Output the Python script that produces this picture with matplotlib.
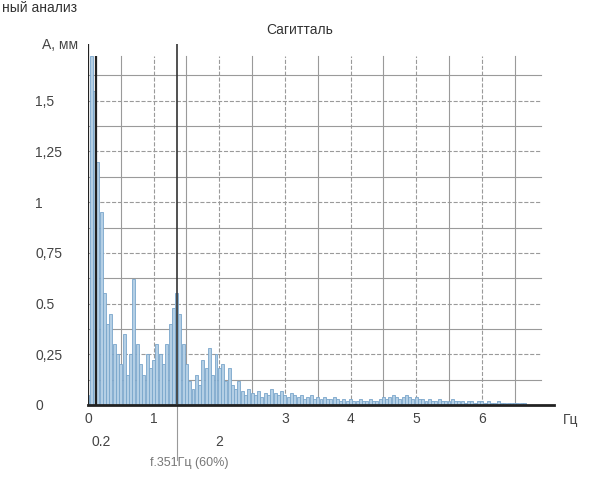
import matplotlib.pyplot as plt
import numpy as np

plt.rcParams['font.family'] = ['Liberation Sans', 'DejaVu Sans']

# spectrum, step 0.05 Hz
freq_step = 0.05
amplitude = [
    0.05, 1.72, 1.55, 1.20, 0.95, 0.55, 0.40, 0.45, 0.30, 0.25,  # 0.00 - 0.45
    0.20, 0.35, 0.15, 0.25, 0.62, 0.30, 0.20, 0.15, 0.25, 0.18,  # 0.50 - 0.95
    0.22, 0.30, 0.25, 0.20, 0.30, 0.40, 0.48, 0.55, 0.45, 0.30,  # 1.00 - 1.45
    0.20, 0.12, 0.08, 0.15, 0.10, 0.22, 0.18, 0.28, 0.15, 0.25,  # 1.50 - 1.95
    0.18, 0.20, 0.12, 0.18, 0.10, 0.08, 0.12, 0.07, 0.05, 0.08,  # 2.00 - 2.45
    0.06, 0.05, 0.07, 0.04, 0.06, 0.05, 0.08, 0.06, 0.05, 0.07,  # 2.50 - 2.95
    0.05, 0.04, 0.06, 0.05, 0.04, 0.05, 0.03, 0.04, 0.05, 0.03,  # 3.00 - 3.45
    0.04, 0.03, 0.04, 0.03, 0.03, 0.04, 0.03, 0.02, 0.03, 0.02,  # 3.50 - 3.95
    0.03, 0.02, 0.02, 0.03, 0.02, 0.02, 0.03, 0.02, 0.02, 0.03,  # 4.00 - 4.45
    0.04, 0.03, 0.04, 0.05, 0.04, 0.03, 0.04, 0.05, 0.04, 0.03,  # 4.50 - 4.95
    0.04, 0.03, 0.03, 0.02, 0.03, 0.02, 0.02, 0.03, 0.02, 0.02,  # 5.00 - 5.45
    0.02, 0.03, 0.02, 0.02, 0.02, 0.01, 0.02, 0.02, 0.01, 0.02,  # 5.50 - 5.95
    0.02, 0.01, 0.02, 0.01, 0.01, 0.02, 0.01, 0.01, 0.01, 0.01,  # 6.00 - 6.45
    0.01, 0.01, 0.01, 0.01,                                      # 6.50 - 6.65
]
freq = np.arange(len(amplitude)) * freq_step

x_ticks = [0, 1, 3, 4, 5, 6]
x_ticks_low = [0.2, 2]
y_ticks = [0, 0.25, 0.5, 0.75, 1, 1.25, 1.5]
y_tick_labels = ['0', '0,25', '0.5', '0,75', '1', '1,25', '1,5']
marker_freq = 1.351

fig = plt.figure(figsize=(5.92, 4.82), dpi=100)
ax = fig.add_axes([88/592, 77/482, 466/592, 361/482])

# grid
for gx in np.arange(0.5, 7.0, 0.5):
    ls = '-' if (gx * 2) % 2 == 1 else '--'
    ax.plot([gx, gx], [0, 1.72], color='#9a9a9a', lw=0.8, ls=ls, zorder=1)
for i, gy in enumerate(np.arange(0.125, 1.72, 0.125)):
    ls = '-' if i % 2 == 0 else '--'
    ax.plot([0, 6.9], [gy, gy], color='#9a9a9a', lw=0.8, ls=ls, zorder=1)

ax.bar(freq, amplitude, width=freq_step * 0.9, color='#b4cfe5',
       edgecolor='#7aa6cb', linewidth=0.6, zorder=2)
ax.vlines([0.0, 0.12], 0, [1.78, 1.72], color='#222222', lw=1.6, zorder=3)

ax.axvline(marker_freq, color='#333333', lw=1.2, zorder=3)
ax.plot([marker_freq, marker_freq], [0, -0.27], color='#999999', lw=0.8,
        clip_on=False)

ax.set_xlim(0, 7.1)
ax.set_ylim(0, 1.78)
for s in ['top', 'right', 'left']:
    ax.spines[s].set_visible(False)
ax.spines['bottom'].set_color('#222222')
ax.spines['bottom'].set_linewidth(2)

ax.set_xticks(x_ticks)
ax.set_xticklabels([str(t) for t in x_ticks], color='#444444', fontsize=10)
ax.get_xticklabels()[0].set_x(0.06)
ax.set_yticks(y_ticks)
ax.set_yticklabels(y_tick_labels, color='#444444', fontsize=10, ha='left')
ax.tick_params(axis='y', length=0, pad=38)
ax.tick_params(axis='x', length=0, pad=5)

for t in x_ticks_low:
    ax.text(t, -0.15, str(t), ha='center', va='top',
            color='#444444', fontsize=10)
ax.text(1.55, -0.255, 'f.351Гц (60%)', ha='center', va='top',
        color='#777777', fontsize=9)
ax.text(7.35, -0.04, 'Гц', ha='center', va='top', color='#444444', fontsize=10)

fig.text(300/592, 1 - 30/482, 'Сагитталь', ha='center', va='center',
         color='#333333', fontsize=10)
fig.text(78/592, 1 - 45/482, 'A, мм', ha='right', va='center',
         color='#444444', fontsize=10)
fig.text(2/592, 1 - 8/482, 'ный анализ', ha='left', va='center',
         color='#333333', fontsize=10)

plt.savefig('out.png', dpi=100)
